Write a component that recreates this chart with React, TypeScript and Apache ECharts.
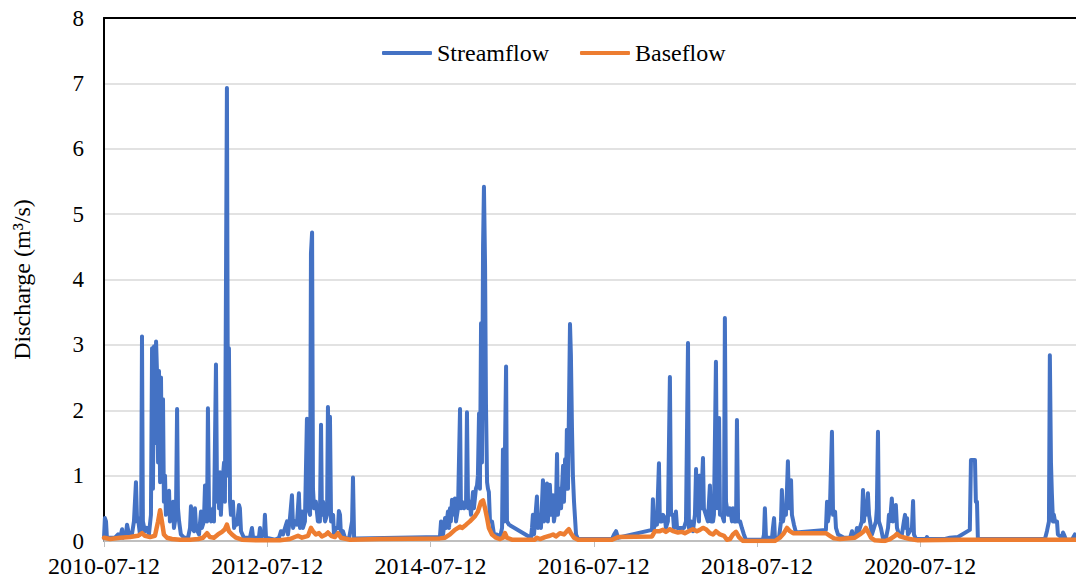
import React, { useEffect, useRef } from "react";
import * as echarts from "echarts";

// day index = days since 2010-07-12
const START_UTC = Date.UTC(2010, 6, 12);
const LAST_DAY = 4349;
const TICK_INTERVAL = 730.5; // two years

const seriesNames = ["Streamflow", "Baseflow"];

// [dayIndex, discharge m3/s]
const streamflow: [number, number][] = [
  [0, 0.05], [4, 0.35], [9, 0.3], [13, 0.05], [49, 0.05], [63, 0.1], [72, 0.05], [81, 0.18], [85, 0.05],
  [98, 0.1], [103, 0.25], [112, 0.1], [125, 0.1], [134, 0.3], [143, 0.9], [148, 0.3], [152, 0.35],
  [161, 0.1], [166, 0.2], [170, 3.13], [174, 0.3], [183, 0.15], [192, 0.2], [201, 0.1], [210, 0.4],
  [215, 2.95], [219, 0.8], [224, 2.98], [228, 1.5], [233, 3.05], [237, 2.6], [242, 1.2], [246, 2.6],
  [251, 0.9], [255, 2.5], [259, 1.0], [264, 2.17], [268, 0.6], [273, 1.0], [277, 0.4], [286, 0.7],
  [291, 0.77], [295, 0.3], [304, 0.5], [309, 0.6], [313, 0.2], [322, 0.4], [327, 2.02], [331, 0.5],
  [336, 0.3], [344, 0.1], [358, 0.05], [376, 0.05], [385, 0.2], [389, 0.53], [394, 0.2], [403, 0.15],
  [407, 0.5], [412, 0.2], [425, 0.1], [434, 0.45], [438, 0.2], [447, 0.3], [452, 0.85], [461, 0.3],
  [465, 2.03], [470, 0.4], [479, 0.3], [488, 0.5], [492, 0.3], [501, 2.7], [506, 0.6], [510, 1.0],
  [515, 0.5], [519, 1.05], [523, 0.4], [528, 0.8], [537, 1.2], [541, 0.6], [550, 6.93], [555, 1.0],
  [559, 2.95], [564, 0.6], [568, 0.4], [577, 0.6], [582, 0.2], [591, 0.3], [595, 0.25], [604, 0.55],
  [608, 0.5], [613, 0.15], [626, 0.05], [653, 0.05], [662, 0.2], [667, 0.05], [693, 0.05], [698, 0.2],
  [702, 0.05], [716, 0.1], [720, 0.4], [725, 0.05], [765, 0.02], [783, 0.05], [792, 0.15], [801, 0.1],
  [810, 0.2], [819, 0.3], [823, 0.1], [832, 0.35], [841, 0.7], [846, 0.2], [855, 0.3], [863, 0.25],
  [872, 0.73], [877, 0.2], [886, 0.45], [890, 0.2], [899, 0.3], [908, 1.87], [913, 0.5], [922, 0.4],
  [926, 4.4], [931, 4.72], [935, 0.8], [940, 0.5], [948, 0.6], [957, 0.3], [966, 0.3], [971, 1.78],
  [975, 0.4], [980, 0.6], [989, 0.3], [998, 0.4], [1002, 2.05], [1007, 1.0], [1011, 1.9], [1016, 0.3],
  [1025, 0.4], [1029, 0.1], [1038, 0.2], [1047, 0.2], [1051, 0.46], [1056, 0.4], [1060, 0.1],
  [1069, 0.15], [1078, 0.05], [1096, 0.03], [1110, 0.3], [1114, 0.97], [1119, 0.05], [1127, 0.04],
  [1503, 0.06], [1508, 0.3], [1512, 0.15], [1517, 0.1], [1526, 0.35], [1530, 0.2], [1539, 0.45],
  [1544, 0.2], [1548, 0.5], [1552, 0.3], [1557, 0.63], [1561, 0.4], [1570, 0.65], [1575, 0.3],
  [1584, 0.5], [1593, 2.02], [1597, 0.5], [1602, 0.6], [1611, 0.5], [1620, 0.6], [1624, 1.97],
  [1629, 0.5], [1637, 0.6], [1642, 0.4], [1651, 0.75], [1655, 0.5], [1664, 0.8], [1669, 0.85],
  [1673, 1.0], [1678, 1.95], [1682, 0.8], [1687, 3.33], [1691, 1.2], [1696, 4.5], [1700, 5.42],
  [1705, 4.2], [1709, 2.1], [1714, 0.9], [1718, 0.8], [1722, 0.75], [1727, 0.3], [1736, 0.3],
  [1745, 0.1], [1758, 0.1], [1772, 0.05], [1781, 0.2], [1785, 1.4], [1790, 0.3], [1799, 2.67],
  [1803, 0.3], [1812, 0.25], [1910, 0.05], [1915, 0.2], [1919, 0.4], [1924, 0.1], [1933, 0.5],
  [1937, 0.68], [1942, 0.2], [1951, 0.3], [1955, 0.2], [1964, 0.93], [1969, 0.3], [1973, 0.5],
  [1982, 0.88], [1986, 0.3], [1995, 0.86], [2000, 0.4], [2009, 0.7], [2013, 0.3], [2022, 0.5],
  [2027, 1.33], [2031, 0.4], [2040, 0.8], [2045, 0.5], [2054, 1.15], [2058, 0.6], [2063, 1.25],
  [2067, 0.8], [2071, 1.7], [2076, 0.8], [2085, 3.32], [2089, 2.85], [2094, 1.7], [2098, 1.0],
  [2103, 0.6], [2112, 0.1], [2121, 0.03], [2273, 0.03], [2282, 0.1], [2291, 0.15], [2300, 0.05],
  [2452, 0.17], [2456, 0.64], [2461, 0.2], [2470, 0.3], [2474, 0.25], [2483, 1.19], [2487, 0.3],
  [2496, 0.3], [2501, 0.4], [2510, 0.35], [2514, 0.2], [2523, 0.3], [2532, 2.51], [2537, 0.4],
  [2546, 0.4], [2550, 0.2], [2559, 0.45], [2564, 0.2], [2577, 0.2], [2595, 0.2], [2604, 0.3],
  [2613, 3.03], [2617, 0.2], [2626, 0.3], [2635, 0.15], [2644, 0.4], [2649, 1.1], [2653, 0.4],
  [2658, 0.8], [2662, 0.3], [2666, 1.0], [2671, 0.5], [2680, 1.27], [2684, 0.5], [2693, 0.4],
  [2702, 0.3], [2711, 0.85], [2716, 0.3], [2725, 0.3], [2729, 0.4], [2738, 2.74], [2743, 0.5],
  [2752, 1.88], [2756, 0.4], [2765, 0.4], [2774, 0.3], [2778, 3.41], [2783, 0.6], [2792, 0.4],
  [2801, 0.5], [2810, 0.3], [2814, 0.5], [2819, 0.3], [2828, 0.3], [2832, 1.85], [2837, 0.3],
  [2846, 0.3], [2854, 0.2], [2863, 0.1], [2872, 0.02], [2948, 0.02], [2953, 0.1], [2957, 0.5],
  [2962, 0.05], [2989, 0.05], [2993, 0.2], [2998, 0.35], [3002, 0.05], [3020, 0.05], [3029, 0.3],
  [3033, 0.78], [3038, 0.3], [3047, 0.5], [3051, 0.4], [3056, 0.8], [3060, 1.22], [3065, 0.5],
  [3069, 0.8], [3074, 0.93], [3078, 0.4], [3087, 0.25], [3096, 0.13], [3230, 0.17], [3235, 0.6],
  [3239, 0.3], [3248, 0.5], [3257, 1.67], [3262, 0.4], [3271, 0.45], [3275, 0.2], [3284, 0.1],
  [3311, 0.05], [3338, 0.05], [3347, 0.15], [3351, 0.05], [3364, 0.1], [3369, 0.2], [3373, 0.1],
  [3391, 0.3], [3396, 0.78], [3400, 0.3], [3405, 0.5], [3409, 0.4], [3418, 0.73], [3423, 0.4],
  [3432, 0.2], [3436, 0.1], [3445, 0.2], [3454, 0.3], [3458, 0.5], [3463, 1.67], [3467, 0.3],
  [3476, 0.2], [3485, 0.05], [3499, 0.05], [3508, 0.2], [3512, 0.4], [3517, 0.3], [3525, 0.65],
  [3530, 0.3], [3539, 0.4], [3543, 0.55], [3548, 0.2], [3557, 0.1], [3570, 0.1], [3579, 0.3],
  [3584, 0.4], [3588, 0.2], [3593, 0.35], [3597, 0.1], [3615, 0.2], [3620, 0.61], [3624, 0.1],
  [3633, 0.03], [3678, 0.03], [3682, 0.06], [3687, 0.03], [3763, 0.03], [3785, 0.05], [3821, 0.06],
  [3874, 0.17], [3879, 1.24], [3897, 1.24], [3901, 0.6], [3906, 0.6], [3910, 0.03], [4210, 0.03],
  [4219, 0.15], [4228, 0.3], [4232, 2.84], [4237, 1.2], [4241, 0.73], [4246, 0.3], [4250, 0.4],
  [4255, 0.3], [4264, 0.3], [4268, 0.1], [4286, 0.05], [4291, 0.13], [4295, 0.1], [4304, 0.02],
  [4331, 0.02], [4344, 0.1], [4349, 0.05],
];

const baseflow: [number, number][] = [
  [0, 0.05], [27, 0.03], [72, 0.05], [116, 0.06], [152, 0.08], [170, 0.12], [183, 0.08], [206, 0.06],
  [228, 0.08], [242, 0.3], [251, 0.47], [259, 0.3], [268, 0.1], [282, 0.05], [304, 0.03], [340, 0.02],
  [385, 0.02], [421, 0.03], [443, 0.05], [461, 0.12], [474, 0.06], [492, 0.05], [510, 0.1], [528, 0.14],
  [541, 0.18], [550, 0.25], [559, 0.15], [573, 0.1], [591, 0.05], [617, 0.02], [698, 0.01], [787, 0.01],
  [832, 0.03], [868, 0.08], [886, 0.05], [913, 0.08], [926, 0.2], [935, 0.15], [948, 0.1], [962, 0.12],
  [975, 0.07], [993, 0.1], [1002, 0.13], [1016, 0.08], [1033, 0.06], [1047, 0.12], [1060, 0.05],
  [1101, 0.02], [1235, 0.03], [1503, 0.04], [1526, 0.05], [1548, 0.1], [1570, 0.17], [1593, 0.22],
  [1602, 0.2], [1620, 0.25], [1637, 0.3], [1660, 0.38], [1673, 0.45], [1687, 0.6], [1696, 0.62],
  [1705, 0.5], [1714, 0.35], [1722, 0.2], [1736, 0.1], [1754, 0.05], [1772, 0.03], [1785, 0.05],
  [1794, 0.12], [1803, 0.05], [1825, 0.02], [1906, 0.02], [1928, 0.02], [1937, 0.05], [1951, 0.03],
  [1973, 0.06], [1995, 0.08], [2009, 0.1], [2022, 0.07], [2040, 0.12], [2058, 0.1], [2071, 0.15],
  [2080, 0.18], [2089, 0.12], [2103, 0.05], [2121, 0.02], [2273, 0.02], [2300, 0.06], [2452, 0.07],
  [2465, 0.15], [2487, 0.15], [2501, 0.17], [2514, 0.14], [2532, 0.18], [2546, 0.15], [2568, 0.13],
  [2586, 0.14], [2599, 0.12], [2622, 0.16], [2635, 0.18], [2653, 0.15], [2666, 0.17], [2680, 0.2],
  [2693, 0.18], [2711, 0.12], [2725, 0.1], [2738, 0.15], [2756, 0.1], [2774, 0.08], [2787, 0.02],
  [2801, 0.03], [2814, 0.1], [2828, 0.14], [2841, 0.06], [2859, 0.0], [3002, 0.0], [3024, 0.05],
  [3042, 0.12], [3056, 0.2], [3069, 0.15], [3083, 0.12], [3230, 0.12], [3248, 0.08], [3266, 0.04],
  [3293, 0.03], [3360, 0.05], [3382, 0.1], [3400, 0.15], [3409, 0.2], [3418, 0.14], [3432, 0.05],
  [3449, 0.01], [3494, 0.0], [3517, 0.03], [3539, 0.08], [3548, 0.11], [3561, 0.07], [3584, 0.05],
  [3606, 0.03], [3642, 0.01], [3830, 0.02], [4009, 0.02], [4349, 0.02],
];

const yTicks = [0, 1, 2, 3, 4, 5, 6, 7, 8];

const FONT = "Liberation Serif";

function dayToLabel(v: number): string {
  const d = new Date(START_UTC + Math.round(v) * 86400000);
  return d.toISOString().slice(0, 10);
}

export default function App() {
  const ref = useRef<HTMLDivElement>(null);
  useEffect(() => {
    if (!ref.current) return;
    const chart = echarts.init(ref.current, undefined, { renderer: "svg" });
    chart.setOption({
      animation: false,
      backgroundColor: "#ffffff",
      grid: { left: 104, right: 0, top: 18, bottom: 47, containLabel: false },
      legend: {
        data: seriesNames,
        left: 377,
        top: 36,
        itemWidth: 50,
        itemHeight: 4,
        itemGap: 31,
        icon: "roundRect",
        textStyle: { fontFamily: FONT, fontSize: 24, color: "#000" },
      },
      xAxis: [
        {
          type: "value",
          min: 0,
          max: LAST_DAY,
          interval: TICK_INTERVAL,
          axisLine: { show: true, onZero: false, lineStyle: { color: "#BFBFBF", width: 2 } },
          axisTick: { show: true, length: 6, lineStyle: { color: "#BFBFBF", width: 1 } },
          splitLine: { show: false },
          axisLabel: {
            formatter: dayToLabel,
            showMaxLabel: false,
            margin: 13,
            fontFamily: FONT,
            fontSize: 24,
            color: "#000",
          },
        },
        {
          type: "value",
          position: "top",
          min: 0,
          max: LAST_DAY,
          axisLine: { show: true, onZero: false, lineStyle: { color: "#000", width: 2 } },
          axisTick: { show: false },
          axisLabel: { show: false },
          splitLine: { show: false },
        },
      ],
      yAxis: {
        type: "value",
        min: yTicks[0],
        max: yTicks[yTicks.length - 1],
        interval: 1,
        name: "Discharge (m³/s)",
        nameLocation: "middle",
        nameGap: 70,
        nameTextStyle: { fontFamily: FONT, fontSize: 24, color: "#000" },
        axisLine: { show: true, lineStyle: { color: "#000", width: 2 } },
        axisTick: { show: false },
        splitLine: { show: true, lineStyle: { color: "#D9D9D9", width: 1.5 } },
        axisLabel: { margin: 20, fontFamily: FONT, fontSize: 23, color: "#000" },
      },
      series: [
        {
          name: seriesNames[0],
          type: "line",
          data: streamflow,
          showSymbol: false,
          symbol: "none",
          color: "#4472C4",
          lineStyle: { color: "#4472C4", width: 4, cap: "round", join: "round" },
        },
        {
          name: seriesNames[1],
          type: "line",
          data: baseflow,
          showSymbol: false,
          symbol: "none",
          color: "#ED7D31",
          lineStyle: { color: "#ED7D31", width: 4.5, cap: "round", join: "round" },
        },
      ],
    });
    return () => chart.dispose();
  }, []);
  return <div ref={ref} style={{ width: 1076, height: 588, position: "absolute", left: 0, top: 0 }} />;
}
